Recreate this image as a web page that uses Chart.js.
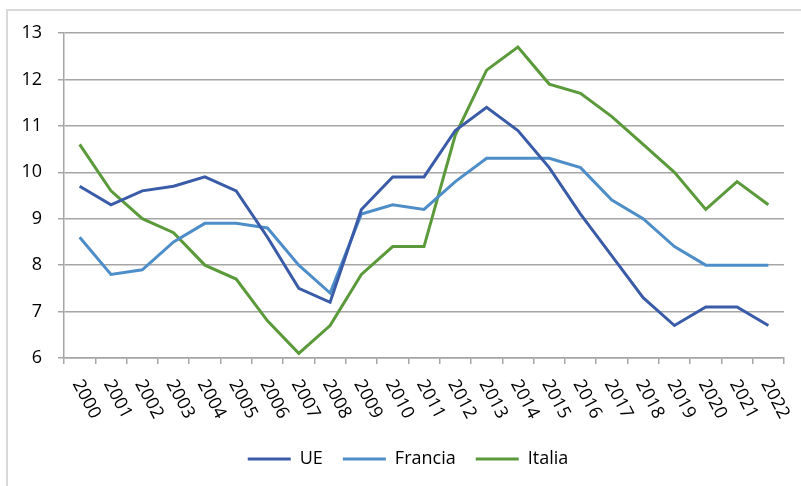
<!DOCTYPE html>
<html>
<head>
<meta charset="utf-8">
<script src="https://cdn.jsdelivr.net/npm/chart.js@4/dist/chart.umd.min.js"></script>
<style>
  html, body { margin: 0; padding: 0; background: #fff; overflow: hidden; }
  #wrap { position: relative; width: 801px; height: 486px; }
  #frame { position: absolute; left: 6px; top: 9px; width: 820px; height: 500px; border: 2px solid #d9d9d9; }
  canvas { position: absolute; left: 0; top: 0; }
</style>
</head>
<body>
<div id="wrap">
  <div id="frame"></div>
  <canvas id="chart" width="801" height="486"></canvas>
</div>
<script>
const years = ["2000", "2001", "2002", "2003", "2004", "2005", "2006", "2007", "2008", "2009", "2010", "2011",
  "2012", "2013", "2014", "2015", "2016", "2017", "2018", "2019", "2020", "2021", "2022"];
const ue = [9.7, 9.3, 9.6, 9.7, 9.9, 9.6, 8.6, 7.5, 7.2, 9.2, 9.9, 9.9, 10.9, 11.4, 10.9, 10.1, 9.1, 8.2, 7.3, 6.7, 7.1, 7.1, 6.7];
const francia = [8.6, 7.8, 7.9, 8.5, 8.9, 8.9, 8.8, 8.0, 7.4, 9.1, 9.3, 9.2, 9.8, 10.3, 10.3, 10.3, 10.1, 9.4, 9.0, 8.4, 8.0, 8.0, 8.0];
const italia = [10.6, 9.6, 9.0, 8.7, 8.0, 7.7, 6.8, 6.1, 6.7, 7.8, 8.4, 8.4, 10.8, 12.2, 12.7, 11.9, 11.7, 11.2, 10.6, 10.0, 9.2, 9.8, 9.3];

const FONT = "'Open Sans', 'Liberation Sans', sans-serif";
const GRID = "#a6a6a6";

// year labels are rotated clockwise, which chart.js can't do itself
const rotatedLabels = {
  id: "rotatedLabels",
  afterLayout(chart) {
    // legend sits a bit right of centre in the original
    chart.legend.left += 16;
    chart.legend.right += 16;
  },
  afterDraw(chart) {
    const ctx = chart.ctx;
    const xs = chart.scales.x;
    ctx.save();
    ctx.font = "18px " + FONT;
    ctx.fillStyle = "#000";
    ctx.textAlign = "left";
    ctx.textBaseline = "middle";
    years.forEach((y, i) => {
      const x = xs.getPixelForValue(i);
      ctx.save();
      ctx.translate(x - 3, xs.top + 23);
      ctx.rotate(62 * Math.PI / 180);
      ctx.fillText(y, 0, 0);
      ctx.restore();
    });
    ctx.restore();
  }
};

function line(label, data, color) {
  return {
    label: label,
    data: data,
    borderColor: color,
    backgroundColor: color,
    borderWidth: 3,
    pointRadius: 0,
    pointStyle: "line",
    tension: 0,
  };
}

new Chart(document.getElementById("chart"), {
  type: "line",
  data: {
    labels: years,
    datasets: [
      line("UE", ue, "#3a5ca8"),
      line("Francia", francia, "#4e8ec8"),
      line("Italia", italia, "#5b9a3a"),
    ],
  },
  options: {
    responsive: false,
    animation: false,
    layout: { padding: { top: 33, right: 17, bottom: 8, left: 0 } },
    plugins: {
      tooltip: { enabled: false },
      legend: {
        position: "bottom",
        labels: {
          usePointStyle: true,
          pointStyleWidth: 43,
          boxHeight: 3,
          padding: 20,
          color: "#000",
          font: { family: FONT, size: 18 },
        },
      },
    },
    scales: {
      x: {
        offset: true,
        grid: { offset: true, drawOnChartArea: false, drawTicks: true, tickLength: 6, color: GRID, lineWidth: 1.5 },
        border: { color: GRID, width: 1.5 },
        ticks: { display: false },
        afterFit(s) { s.height = 72; },
      },
      y: {
        min: 6,
        max: 13,
        ticks: { stepSize: 1, padding: 16, color: "#000", font: { family: FONT, size: 18 } },
        grid: { color: GRID, lineWidth: 1.5, tickLength: 6 },
        border: { color: GRID, width: 1.5 },
        afterFit(s) { s.width = 64; },
      },
    },
  },
  plugins: [rotatedLabels],
});
</script>
</body>
</html>
